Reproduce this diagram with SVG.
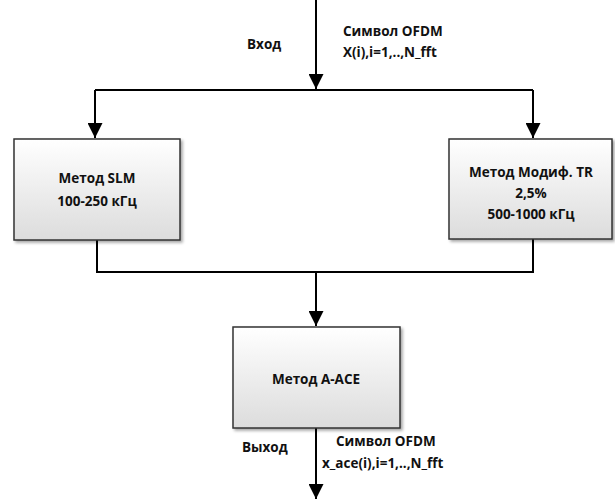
<svg xmlns="http://www.w3.org/2000/svg" width="615" height="500" viewBox="0 0 615 500">
<style>
.box{fill:url(#g);stroke:#333;stroke-width:1.5}
.t{font-family:"Open Sans","Liberation Sans",sans-serif;font-weight:bold;font-size:13.5px;fill:#111;text-anchor:middle}
.l{font-family:"Open Sans","Liberation Sans",sans-serif;font-weight:bold;font-size:13.5px;fill:#111}
.c{fill:none;stroke:#000;stroke-width:2}
</style>
<defs>
<linearGradient id="g" x1="0" y1="0" x2="0" y2="1"><stop offset="0" stop-color="#ffffff"/><stop offset="1" stop-color="#dcdcdc"/></linearGradient>
<filter id="s" x="-10%" y="-10%" width="130%" height="130%"><feDropShadow dx="2" dy="2" stdDeviation="1.5" flood-color="#000" flood-opacity="0.35"/></filter>
<marker id="a" viewBox="0 0 10 10" refX="10" refY="5" markerWidth="16" markerHeight="15" markerUnits="userSpaceOnUse" orient="auto"><path d="M0,0L10,5L0,10z" fill="#000"/></marker>
</defs>
<g id="connectors">
<line class="c" x1="316" y1="0" x2="316" y2="89" marker-end="url(#a)"/>
<path class="c" d="M95,90H533"/>
<line class="c" x1="95" y1="90" x2="95" y2="138" marker-end="url(#a)"/>
<line class="c" x1="533" y1="90" x2="533" y2="138" marker-end="url(#a)"/>
<path class="c" d="M97,240V272H533V239"/>
<line class="c" x1="316" y1="272" x2="316" y2="326" marker-end="url(#a)"/>
<line class="c" x1="316" y1="428" x2="316" y2="499" marker-end="url(#a)"/>
</g>
<g id="labels">
<text class="l" x="247" y="49">Вход</text>
<text class="l" x="343" y="36">Символ OFDM</text>
<text class="l" x="343" y="57">X(i),i=1,..,N_fft</text>
<text class="l" x="242" y="452">Выход</text>
<text class="l" x="336" y="446">Символ OFDM</text>
<text class="l" x="322" y="468">x_ace(i),i=1,..,N_fft</text>
</g>
<g id="slm">
<rect class="box" x="14" y="139" width="166" height="101" filter="url(#s)"/>
<text class="t" x="97" y="183">Метод SLM</text>
<text class="t" x="97" y="206">100-250 кГц</text>
</g>
<g id="tr">
<rect class="box" x="449" y="139" width="163" height="100" filter="url(#s)"/>
<text class="t" x="531" y="177">Метод Модиф. TR</text>
<text class="t" x="531" y="198">2,5%</text>
<text class="t" x="531" y="219">500-1000 кГц</text>
</g>
<g id="aace">
<rect class="box" x="233" y="327" width="167" height="101" filter="url(#s)"/>
<text class="t" x="316" y="384">Метод A-ACE</text>
</g>
</svg>
